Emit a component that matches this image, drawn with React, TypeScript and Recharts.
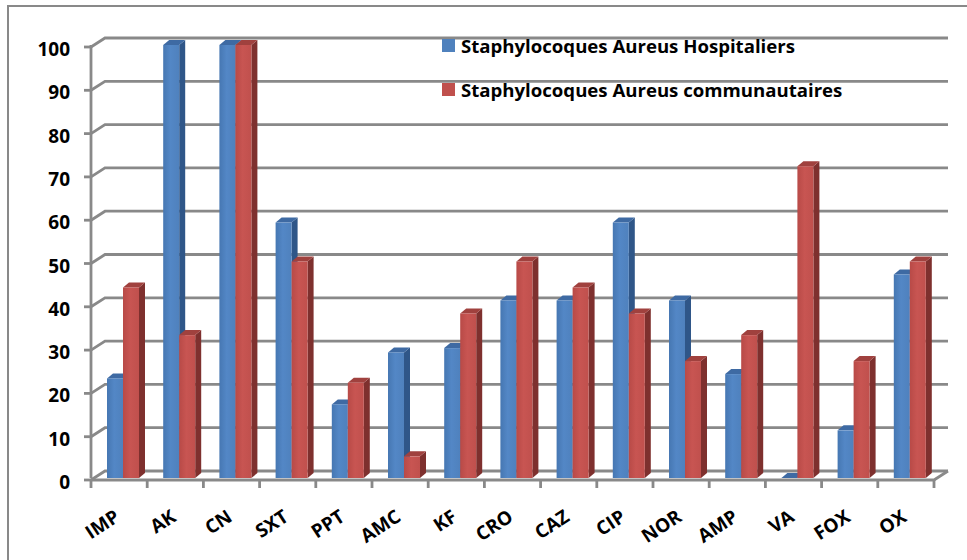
import { Bar, BarChart, CartesianGrid, Legend, XAxis, YAxis } from 'recharts';

const categories = ['IMP', 'AK', 'CN', 'SXT', 'PPT', 'AMC', 'KF', 'CRO', 'CAZ', 'CIP', 'NOR', 'AMP', 'VA', 'FOX', 'OX'];
const hospitaliers = [23, 100, 100, 59, 17, 29, 30, 41, 41, 59, 41, 24, 0, 11, 47];
const communautaires = [44, 33, 100, 50, 22, 5, 38, 50, 44, 38, 27, 33, 72, 27, 50];
const yTicks = [0, 10, 20, 30, 40, 50, 60, 70, 80, 90, 100];
const seriesNames = ['Staphylocoques Aureus Hospitaliers', 'Staphylocoques Aureus communautaires'];

const data = categories.map((name, i) => ({
  name,
  hosp: hospitaliers[i],
  comm: communautaires[i],
}));

// layout of the plot (3D look: front axis + back wall offset)
const W = 967;
const H = 560;
const PLOT_LEFT = 91;
const PLOT_RIGHT = 934;
const PLOT_TOP = 45;
const PLOT_BOTTOM = 478;
const BAND = (PLOT_RIGHT - PLOT_LEFT) / categories.length;
const WALL_DX = 14;
const WALL_DY = 9;
const FRONT_DY = 2;
const AXIS_GREY = '#898989';
const FONT = '"Open Sans", Lato, sans-serif';

const palette = {
  hosp: { front: '#4f81bd', side: '#2f5688', top: '#3e6aa3' },
  comm: { front: '#c0504d', side: '#7e302e', top: '#a0413e' },
};

function Bar3D(props: any) {
  const { x, y, width, height, colors, gradient } = props;
  const bx = x + 4;
  const d = 6;
  const dy = 5;
  return (
    <g>
      <polygon
        points={`${bx + width},${y} ${bx + width + d},${y - dy} ${bx + width + d},${y + height - dy} ${bx + width},${y + height}`}
        fill={colors.side}
      />
      <polygon
        points={`${bx},${y} ${bx + d},${y - dy} ${bx + width + d},${y - dy} ${bx + width},${y}`}
        fill={colors.top}
      />
      <rect x={bx} y={y} width={width} height={Math.max(height, 0)} fill={`url(#${gradient})`} />
    </g>
  );
}

function GridLine(props: any) {
  const { x1, x2, y1 } = props;
  const front = y1 + FRONT_DY;
  const back = y1 - WALL_DY + FRONT_DY;
  const isFloor = Math.abs(y1 - PLOT_BOTTOM) < 1;
  return (
    <g>
      <path
        d={`M${x1},${front} L${x1 + WALL_DX},${back} L${x2 + WALL_DX},${back}`}
        stroke={AXIS_GREY}
        strokeWidth={2.8}
        fill="none"
      />
      {isFloor && (
        <path
          d={`M${x1},${front} L${x2},${front} L${x2 + WALL_DX},${back}`}
          stroke={AXIS_GREY}
          strokeWidth={2.8}
          fill="none"
        />
      )}
    </g>
  );
}

function YTick(props: any) {
  const { y, payload } = props;
  return (
    <g>
      <line x1={PLOT_LEFT - 7} x2={PLOT_LEFT} y1={y + FRONT_DY} y2={y + FRONT_DY} stroke={AXIS_GREY} strokeWidth={2.8} />
      <text
        x={PLOT_LEFT - 21}
        y={y + 4}
        textAnchor="end"
        dominantBaseline="central"
        fontFamily={FONT}
        fontWeight="bold"
        fontSize={19}
        fill="#000"
      >
        {payload.value}
      </text>
    </g>
  );
}

function XTick(props: any) {
  const { x, payload, index } = props;
  const base = PLOT_BOTTOM + FRONT_DY;
  const last = index === categories.length - 1;
  const tx = x + 2;
  const ty = base + 40;
  return (
    <g>
      <line x1={x - BAND / 2} x2={x - BAND / 2} y1={base} y2={base + 8} stroke={AXIS_GREY} strokeWidth={2.8} />
      {last && <line x1={x + BAND / 2} x2={x + BAND / 2} y1={base} y2={base + 8} stroke={AXIS_GREY} strokeWidth={2.8} />}
      <text
        x={tx}
        y={ty}
        textAnchor="end"
        transform={`rotate(-33 ${tx} ${ty})`}
        fontFamily={FONT}
        fontWeight="bold"
        fontSize={19}
        fill="#000"
      >
        {payload.value}
      </text>
    </g>
  );
}

function LegendBox(props: any) {
  const items = props.payload || [];
  return (
    <div style={{ fontFamily: FONT, fontWeight: 'bold', fontSize: 18.6, color: '#000' }}>
      {items.map((item: any) => (
        <div key={item.value} style={{ display: 'flex', alignItems: 'center', height: 26, marginBottom: 18 }}>
          <span style={{ width: 13, height: 13, background: item.color, marginRight: 6, display: 'inline-block' }} />
          <span style={{ whiteSpace: 'nowrap' }}>{item.value}</span>
        </div>
      ))}
    </div>
  );
}

export default function App() {
  return (
    <div style={{ position: 'absolute', left: 0, top: 0, width: W, height: H, overflow: 'hidden', background: '#fff' }}>
      <div
        style={{
          position: 'absolute',
          left: 7,
          top: 5,
          width: W,
          height: H,
          borderLeft: `2px solid ${AXIS_GREY}`,
          borderTop: `2px solid ${AXIS_GREY}`,
        }}
      />
      <BarChart
        width={W}
        height={H}
        data={data}
        margin={{ top: PLOT_TOP, right: W - PLOT_RIGHT, bottom: 0, left: 0 }}
        barSize={16}
        barGap={0}
        style={{ position: 'absolute', left: 0, top: 0 }}
      >
        <defs>
          <linearGradient id="gradHosp" x1="0" y1="0" x2="1" y2="0">
            <stop offset="0%" stopColor="#4677b2" />
            <stop offset="45%" stopColor="#5387c6" />
            <stop offset="100%" stopColor={palette.hosp.front} />
          </linearGradient>
          <linearGradient id="gradComm" x1="0" y1="0" x2="1" y2="0">
            <stop offset="0%" stopColor="#b84a47" />
            <stop offset="45%" stopColor="#c85552" />
            <stop offset="100%" stopColor={palette.comm.front} />
          </linearGradient>
        </defs>
        <CartesianGrid vertical={false} horizontal={(p: any) => <GridLine key={p.key} {...p} />} />
        <XAxis dataKey="name" height={H - PLOT_BOTTOM} interval={0} tickLine={false} axisLine={false} tick={<XTick />} />
        <YAxis
          domain={[0, 100]}
          ticks={yTicks}
          interval={0}
          width={PLOT_LEFT}
          tickLine={false}
          axisLine={{ stroke: AXIS_GREY, strokeWidth: 2.8 }}
          tick={<YTick />}
        />
        <Legend
          layout="vertical"
          verticalAlign="middle"
          align="center"
          content={<LegendBox />}
          wrapperStyle={{ left: 442, top: 32, width: 500 }}
        />
        <Bar
          dataKey="hosp"
          name={seriesNames[0]}
          fill={palette.hosp.front}
          isAnimationActive={false}
          shape={<Bar3D colors={palette.hosp} gradient="gradHosp" />}
        />
        <Bar
          dataKey="comm"
          name={seriesNames[1]}
          fill={palette.comm.front}
          isAnimationActive={false}
          shape={<Bar3D colors={palette.comm} gradient="gradComm" />}
        />
      </BarChart>
    </div>
  );
}
